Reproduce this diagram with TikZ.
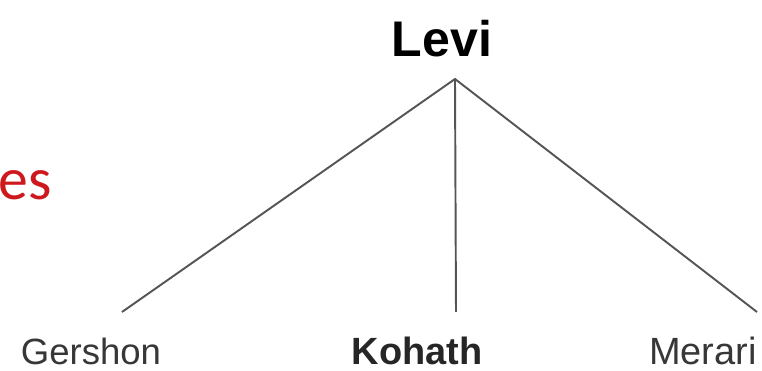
\documentclass[tikz,border=0pt]{standalone}
\usepackage{fontspec}
\setmainfont{Liberation Sans}
\newfontfamily\calibrifont{Carlito}
\usetikzlibrary{positioning}
\definecolor{branchgray}{RGB}{85,85,85}
\definecolor{namegray}{RGB}{55,55,55}
\definecolor{slidered}{RGB}{205,25,30}

\begin{document}
\begin{tikzpicture}[x=0.02cm,y=-0.02cm,
    person/.style={anchor=base,inner sep=0pt,text=namegray},
    branch/.style={draw=branchgray,line width=1.1pt}]
  \useasboundingbox (0,0) rectangle (762,371);
  % head of the family
  \node[person,text=black,font=\bfseries\fontsize{28.5}{30}\selectfont] (levi) at (442,57) {Levi};
  \coordinate (fork) at (455,79);
  % sons
  \node[person,font=\fontsize{20.8}{22}\selectfont] (gershon) at (91,365) {Gershon};
  \node[person,text=black!85,font=\bfseries\fontsize{21.6}{23}\selectfont] (kohath) at (417,365) {Kohath};
  \node[person,font=\fontsize{21.6}{23}\selectfont] (merari) at (703,365) {Merari};
  \coordinate (gershon-top) at (122,312);
  \coordinate (kohath-top) at (456,312);
  \coordinate (merari-top) at (757,312);
  \draw[branch] (gershon-top) -- (fork) -- (merari-top);
  \draw[branch] (fork) -- (kohath-top);
  % cut-off word
  \node[anchor=base west,inner sep=0pt,text=slidered,font=\calibrifont\fontsize{34}{36}\selectfont] (word) at (-2,200) {es};
\end{tikzpicture}
\end{document}
